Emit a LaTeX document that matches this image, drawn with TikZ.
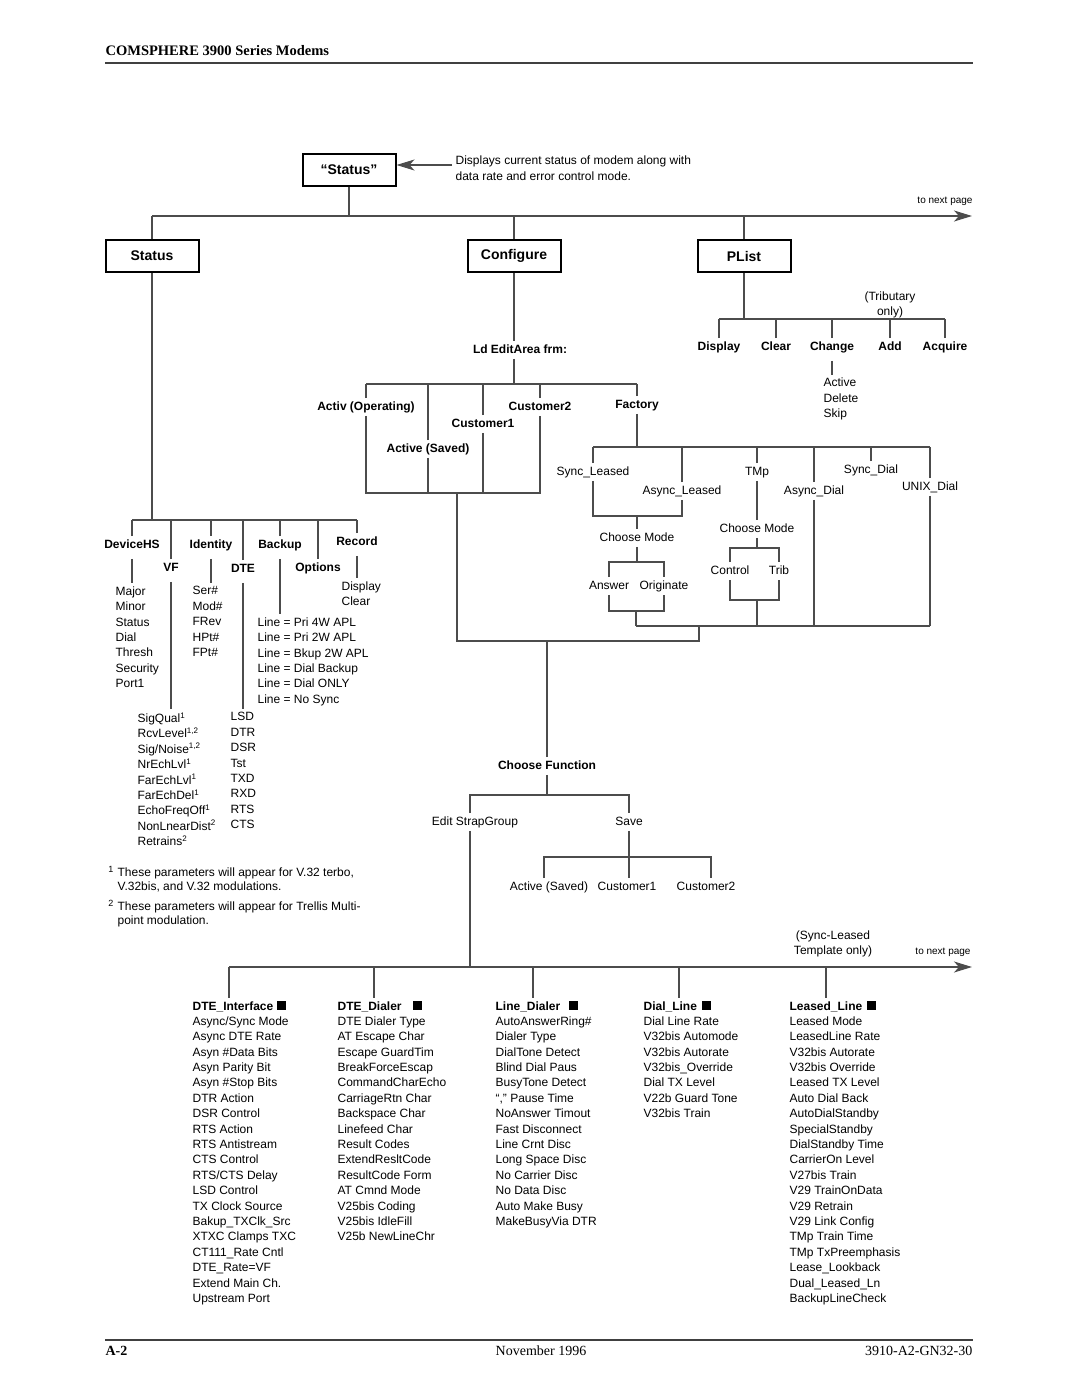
\documentclass[tikz,border=0pt]{standalone}
\usepackage{fontspec}
\setmainfont{Liberation Sans}
\newfontfamily\docserif{Liberation Serif}
\usetikzlibrary{arrows.meta}

\newcommand{\blksq}{\rule{9pt}{9pt}}

\begin{document}
\begin{tikzpicture}[x=1pt,y=-1pt,>={Stealth[length=18pt,width=11pt,inset=5pt]},
                    line width=1.2pt,color=black!70]
  \tikzstyle{every node}=[text=black]
  \tikzstyle{menu}=[draw=black,line width=2pt,minimum width=93pt,minimum height=32pt,
                    font=\fontsize{14}{16}\selectfont\bfseries]
  \tikzstyle{lbl}=[inner sep=2.5pt,text height=9pt,text depth=2.5pt,
                   font=\fontsize{12}{15.4}\selectfont]
  \tikzstyle{bld}=[lbl,font=\fontsize{12}{15.4}\selectfont\bfseries]
  \tikzstyle{lst}=[inner sep=0pt,anchor=north west,align=left,
                   execute at begin node=\strut,font=\fontsize{12}{15.4}\selectfont]
  \tikzstyle{note}=[inner sep=0pt,align=center,font=\fontsize{12}{15}\selectfont]
  \tikzstyle{nxt}=[inner sep=0pt,font=\fontsize{10}{12}\selectfont]
  \tikzstyle{foot}=[inner sep=0pt,font=\docserif\fontsize{14}{16}\selectfont]
  \tikzstyle{gap}=[shorten <=5pt,shorten >=3pt]

  \useasboundingbox[fill=white] (0,0) rectangle (1080,1397);

  \node[foot,anchor=west,font=\docserif\fontsize{14.5}{16}\selectfont\bfseries]
       (title) at (105,51) {COMSPHERE 3900 Series Modems};
  \coordinate (hl) at (105,63);
  \coordinate (hr) at (973,63);
  \draw[line width=1.6pt,black!75] (hl) -- (hr);
  \coordinate (fl) at (105,1340);
  \coordinate (fr) at (973,1340);
  \draw[line width=1.6pt,black!75] (fl) -- (fr);
  \node[foot,anchor=west] (pageno) at (105,1351) {\bfseries A-2};
  \node[foot] (date) at (541,1351) {November 1996};
  \node[foot,anchor=east] (docno) at (973,1351) {3910-A2-GN32-30};

  \node[menu] (top) at (349,169.5) {“Status”};
  \node[lst,font=\fontsize{12}{16}\selectfont] (note) at (455,155)
       {Displays current status of modem along with\\data rate and error control mode.};
  \coordinate (noteend) at (452,165);
  \draw[->] (noteend) -- (noteend -| top.east);

  \coordinate (b1) at (152,216);
  \coordinate (b1e) at (972,216);
  \draw (top) -- (top |- b1);
  \draw[->,line width=1.5pt] (b1) -- (b1e);
  \node[nxt] (next1) at (945,201) {to next page};

  \node[menu] (status) at (152,256) {Status};
  \node[menu] (config) at (514,256) {Configure};
  \node[menu] (plist) at (744,256) {PList};
  \foreach \n in {status,config,plist}
    \draw (\n) -- (\n |- b1);

  \coordinate (sb) at (152,520);
  \draw (status) -- (sb);
  \node[bld] (devhs) at (132,545) {DeviceHS};
  \node[bld] (vf) at (171,568) {VF};
  \node[bld] (ident) at (211,545) {Identity};
  \node[bld] (dte) at (243,569) {DTE};
  \node[bld] (backup) at (280,545) {Backup};
  \node[bld] (options) at (318,568) {Options};
  \node[bld] (record) at (357,542) {Record};
  \draw (devhs.north |- sb) -- (record.north |- sb);
  \foreach \n in {devhs,vf,ident,dte,backup,options,record}
    \draw (\n.north) -- (\n.north |- sb);

  \node[lst] (devhsl) at (115,586) {Major\\Minor\\Status\\Dial\\Thresh\\Security\\Port1};
  \node[lst] (identl) at (192,586) {Ser\#\\Mod\#\\FRev\\HPt\#\\FPt\#};
  \node[lst] (backupl) at (257,617) {Line = Pri 4W APL\\Line = Pri 2W APL\\
       Line = Bkup 2W APL\\Line = Dial Backup\\Line = Dial ONLY\\Line = No Sync};
  \node[lst] (recordl) at (341,581) {Display\\Clear};
  \node[lst] (vfl) at (137,712) {SigQual\textsuperscript{1}\\RcvLevel\textsuperscript{1,2}\\
       Sig/Noise\textsuperscript{1,2}\\NrEchLvl\textsuperscript{1}\\FarEchLvl\textsuperscript{1}\\
       FarEchDel\textsuperscript{1}\\EchoFreqOff\textsuperscript{1}\\
       NonLnearDist\textsuperscript{2}\\Retrains\textsuperscript{2}};
  \node[lst] (dtel) at (230,712) {LSD\\DTR\\DSR\\Tst\\TXD\\RXD\\RTS\\CTS};
  \foreach \n/\l in {devhs/devhsl,vf/vfl,ident/identl,dte/dtel,backup/backupl,record/recordl}
    \draw[gap] (\n.south) -- (\n.south |- \l.north);

  \node[nxt,font=\fontsize{9}{10}\selectfont] (fn1n) at (111,869) {1};
  \node[lst,font=\fontsize{12}{14}\selectfont] (fn1) at (117,867.5)
       {These parameters will appear for V.32 terbo,\\V.32bis, and V.32 modulations.};
  \node[nxt,font=\fontsize{9}{10}\selectfont] (fn2n) at (111,903) {2};
  \node[lst,font=\fontsize{12}{14}\selectfont] (fn2) at (117,901.5)
       {These parameters will appear for Trellis Multi-\\point modulation.};

  \node[bld] (ldedit) at (520,350) {Ld EditArea frm:};
  \coordinate (lb) at (514,384);
  \draw (config) -- (config |- ldedit.north);
  \draw (config |- ldedit.south) -- (lb);
  \node[bld] (activ) at (366,407) {Activ (Operating)};
  \node[bld] (cust2) at (540,407) {Customer2};
  \node[bld] (factory) at (637,405) {Factory};
  \node[bld] (cust1) at (483,424) {Customer1};
  \node[bld] (asaved) at (428,449) {Active (Saved)};
  \draw (activ.north |- lb) -- (factory.north |- lb);
  \foreach \n in {activ,asaved,cust1,cust2,factory}
    \draw (\n.north) -- (\n.north |- lb);
  \coordinate (lc) at (457,493);
  \draw (activ.south) |- (cust2.south |- lc) -- (cust2.south);
  \draw (asaved.south) -- (asaved.south |- lc);
  \draw (cust1.south) -- (cust1.south |- lc);

  \coordinate (fb) at (636,447);
  \draw (factory.south) -- (factory.south |- fb);
  \node[lbl] (syncl) at (593,472) {Sync\_Leased};
  \node[lbl] (asyncl) at (682,491) {Async\_Leased};
  \node[lbl] (tmp) at (757,472) {TMp};
  \node[lbl] (asyncd) at (814,491) {Async\_Dial};
  \node[lbl] (syncd) at (871,470) {Sync\_Dial};
  \node[lbl] (unixd) at (930,487) {UNIX\_Dial};
  \draw (syncl.north |- fb) -- (unixd.north |- fb);
  \foreach \n in {syncl,asyncl,tmp,asyncd,syncd,unixd}
    \draw (\n.north) -- (\n.north |- fb);

  \coordinate (slb) at (637,516);
  \draw (syncl.south) |- (slb) -| (asyncl.south);
  \node[lbl] (cmode1) at (637,538) {Choose Mode};
  \draw (slb) -- (cmode1);
  \coordinate (cm1b) at (637,562);
  \draw (cmode1) -- (cm1b);
  \node[lbl] (answer) at (609,586) {Answer};
  \node[lbl] (orig) at (664,586) {Originate};
  \draw (answer.north) |- (cm1b) -| (orig.north);
  \coordinate (aob) at (636,611);
  \draw (answer.south) |- (aob) -| (orig.south);

  \node[lbl] (cmode2) at (757,529) {Choose Mode};
  \draw (tmp) -- (cmode2);
  \coordinate (cm2b) at (757,548);
  \draw (cmode2) -- (cm2b);
  \node[lbl] (control) at (730,571) {Control};
  \node[lbl] (trib) at (779,571) {Trib};
  \draw (control.north) |- (cm2b) -| (trib.north);
  \coordinate (ctb) at (757,600);
  \draw (control.south) |- (ctb) -| (trib.south);

  \coordinate (fj) at (699,626);
  \draw (aob |- fj) -- (unixd.south |- fj);
  \foreach \n in {aob,ctb}
    \draw (\n) -- (\n |- fj);
  \foreach \n in {asyncd,unixd}
    \draw (\n.south) -- (\n.south |- fj);
  \coordinate (cj) at (699,641);
  \draw (lc) |- (cj) -- (fj);

  \coordinate (pb) at (744,319);
  \draw (plist) -- (pb);
  \node[bld] (display) at (719,347) {Display};
  \node[bld] (clear) at (776,347) {Clear};
  \node[bld] (change) at (832,347) {Change};
  \node[bld] (add) at (890,347) {Add};
  \node[bld] (acquire) at (945,347) {Acquire};
  \draw (display.north |- pb) -- (acquire.north |- pb);
  \foreach \n in {display,clear,change,add,acquire}
    \draw (\n.north) -- (\n.north |- pb);
  \node[note] (tribnote) at (890,304.5) {(Tributary\\only)};
  \node[lst] (changel) at (823,377.5) {Active\\Delete\\Skip};
  \draw[gap] (change.south) -- (change.south |- changel.north);

  \node[bld] (choosefn) at (547,766) {Choose Function};
  \draw (choosefn) -- (choosefn |- cj);
  \coordinate (cfb) at (547,795);
  \draw (choosefn) -- (cfb);
  \node[lbl] (editsg) at (475,822) {Edit StrapGroup};
  \node[lbl] (save) at (629,822) {Save};
  \coordinate (b2e) at (470,967);
  \draw (editsg.north -| b2e) |- (cfb) -| (save.north);
  \draw (editsg.south -| b2e) -- (b2e);
  \node[lbl] (saved2) at (549,887) {Active (Saved)};
  \node[lbl] (cust1b) at (627,887) {Customer1};
  \node[lbl] (cust2b) at (706,887) {Customer2};
  \coordinate (svl) at (544,857);
  \coordinate (svr) at (711,857);
  \draw (save) -- (save |- cust1b.north);
  \draw (saved2.north -| svl) -- (svl) -- (svr) -- (saved2.north -| svr);

  \coordinate (b2) at (229,967);
  \coordinate (b2r) at (972,967);
  \draw[->,line width=1.5pt] (b2) -- (b2r);
  \node[note] (tmplnote) at (833,944) {(Sync-Leased\\Template only)};
  \node[nxt] (next2) at (943,952) {to next page};

  \node[bld,anchor=west] (dtei) at (189.5,1007) {DTE\_Interface\hspace{4pt}\blksq};
  \node[bld,anchor=west] (dted) at (334.5,1007) {DTE\_Dialer\hspace{11pt}\blksq};
  \node[bld,anchor=west] (lined) at (492.5,1007) {Line\_Dialer\hspace{9pt}\blksq};
  \node[bld,anchor=west] (diall) at (640.5,1007) {Dial\_Line\hspace{5pt}\blksq};
  \node[bld,anchor=west] (leasl) at (786.5,1007) {Leased\_Line\hspace{5pt}\blksq};
  \coordinate (t2) at (374,967);
  \coordinate (t3) at (533,967);
  \coordinate (t4) at (679,967);
  \coordinate (t5) at (826,967);
  \draw (b2) -- (b2 |- dtei.north);
  \foreach \t/\n in {t2/dted,t3/lined,t4/diall,t5/leasl}
    \draw (\t) -- (\t |- \n.north);

  \node[lst] (dteil) at (192,1016) {Async/Sync Mode\\Async DTE Rate\\Asyn \#Data Bits\\
       Asyn Parity Bit\\Asyn \#Stop Bits\\DTR Action\\DSR Control\\RTS Action\\
       RTS Antistream\\CTS Control\\RTS/CTS Delay\\LSD Control\\TX Clock Source\\
       Bakup\_TXClk\_Src\\XTXC Clamps TXC\\CT111\_Rate Cntl\\DTE\_Rate=VF\\
       Extend Main Ch.\\Upstream Port};
  \node[lst] (dtedl) at (337,1016) {DTE Dialer Type\\AT Escape Char\\Escape GuardTim\\
       BreakForceEscap\\CommandCharEcho\\CarriageRtn Char\\Backspace Char\\
       Linefeed Char\\Result Codes\\ExtendResltCode\\ResultCode Form\\AT Cmnd Mode\\
       V25bis Coding\\V25bis IdleFill\\V25b NewLineChr};
  \node[lst] (linedl) at (495,1016) {AutoAnswerRing\#\\Dialer Type\\DialTone Detect\\
       Blind Dial Paus\\BusyTone Detect\\“,” Pause Time\\NoAnswer Timout\\
       Fast Disconnect\\Line Crnt Disc\\Long Space Disc\\No Carrier Disc\\
       No Data Disc\\Auto Make Busy\\MakeBusyVia DTR};
  \node[lst] (dialll) at (643,1016) {Dial Line Rate\\V32bis Automode\\V32bis Autorate\\
       V32bis\_Override\\Dial TX Level\\V22b Guard Tone\\V32bis Train};
  \node[lst] (leasll) at (789,1016) {Leased Mode\\LeasedLine Rate\\V32bis Autorate\\
       V32bis Override\\Leased TX Level\\Auto Dial Back\\AutoDialStandby\\
       SpecialStandby\\DialStandby Time\\CarrierOn Level\\V27bis Train\\
       V29 TrainOnData\\V29 Retrain\\V29 Link Config\\TMp Train Time\\
       TMp TxPreemphasis\\Lease\_Lookback\\Dual\_Leased\_Ln\\BackupLineCheck};
\end{tikzpicture}
\end{document}
